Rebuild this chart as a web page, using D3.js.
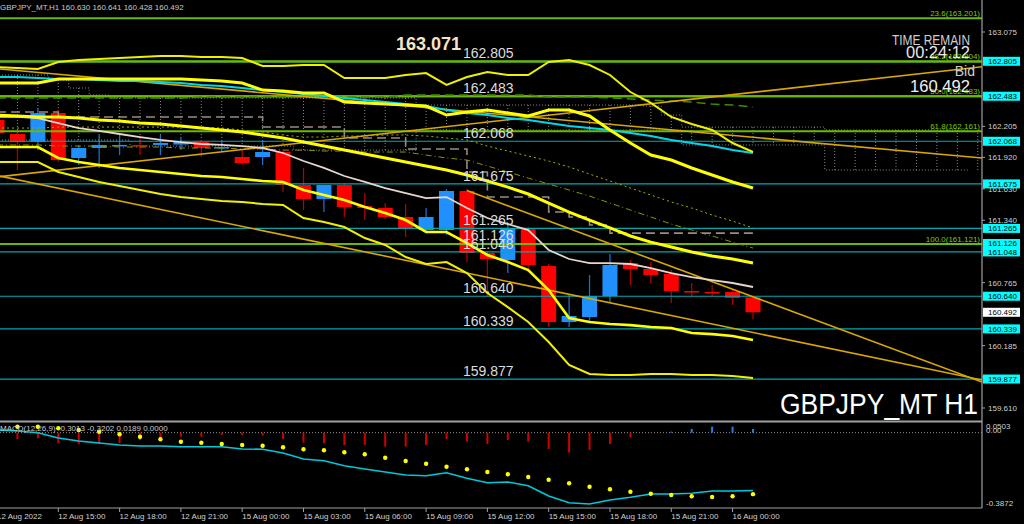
<!DOCTYPE html>
<html><head><meta charset="utf-8">
<script src="https://cdn.jsdelivr.net/npm/d3@7"></script>
<style>html,body{margin:0;padding:0;background:#000;overflow:hidden}svg{display:block}</style>
</head><body><svg id="c" width="1024" height="524"></svg>
<script>
// ---------- DATA ----------
const symbol = "GBPJPY_MT,H1";
const header = "160.630 160.641 160.428 160.492";
const open  = [162.264,162.135,162.061,162.328,161.914,162.006,162.024,162.034,162.034,162.038,162.061,162.006,161.923,161.923,161.969,161.665,161.536,161.665,161.471,161.453,161.370,161.250,161.250,161.610,161.038,160.974,161.259,160.918,160.402,160.448,160.642,160.946,160.891,160.845,160.688,160.679,160.679,160.630];
const high  = [162.310,162.154,162.375,162.356,162.034,162.126,162.126,162.098,162.126,162.098,162.080,162.080,161.987,162.080,161.987,161.822,161.665,161.683,161.591,161.499,161.490,161.453,161.628,161.628,161.057,161.296,161.278,160.937,160.651,160.835,161.029,160.974,160.955,160.881,160.762,160.743,160.697,160.641];
const low   = [162.080,161.803,161.987,161.877,161.849,161.822,161.941,161.941,161.941,161.987,161.923,161.969,161.849,161.849,161.600,161.434,161.416,161.370,161.342,161.351,161.186,161.232,161.204,160.955,160.633,160.854,160.863,160.356,160.356,160.411,160.587,160.743,160.762,160.578,160.633,160.633,160.559,160.428];
const close = [162.144,162.061,162.328,161.895,162.006,162.034,162.034,162.024,162.052,162.061,162.006,162.015,161.867,161.969,161.665,161.536,161.665,161.462,161.453,161.370,161.259,161.370,161.610,161.038,160.983,161.269,160.928,160.402,160.458,160.642,160.928,160.891,160.835,160.688,160.679,160.670,160.624,160.492];

const bandOuterUp = [162.752,162.743,162.734,162.799,162.817,162.826,162.835,162.845,162.854,162.854,162.845,162.845,162.835,162.762,162.762,162.771,162.771,162.651,162.651,162.651,162.679,162.697,162.587,162.660,162.706,162.679,162.679,162.799,162.817,162.771,162.679,162.522,162.421,162.292,162.227,162.172,162.052,161.969];
const bandUp = [162.605,162.605,162.605,162.642,162.642,162.642,162.642,162.642,162.642,162.642,162.633,162.623,162.605,162.540,162.531,162.513,162.513,162.430,162.421,162.411,162.402,162.393,162.310,162.338,162.356,162.328,162.301,162.356,162.356,162.301,162.172,162.052,161.941,161.895,161.822,161.757,161.693,161.637];
const bandMid = [162.310,162.301,162.292,162.292,162.282,162.264,162.255,162.236,162.227,162.209,162.190,162.172,162.153,162.126,162.098,162.061,162.024,161.987,161.951,161.914,161.877,161.840,161.803,161.757,161.702,161.646,161.582,161.499,161.416,161.342,161.269,161.195,161.139,161.093,161.047,161.010,160.983,160.946];
const bandLow = [162.015,162.015,162.015,161.914,161.877,161.849,161.822,161.803,161.785,161.766,161.748,161.739,161.720,161.702,161.693,161.619,161.573,161.527,161.462,161.407,161.342,161.232,161.232,161.130,161.020,160.955,160.881,160.697,160.439,160.402,160.384,160.374,160.356,160.347,160.301,160.291,160.273,160.236];
const bandOuterLow = [161.877,161.877,161.877,161.785,161.739,161.693,161.656,161.619,161.582,161.554,161.536,161.517,161.508,161.490,161.481,161.361,161.324,161.278,161.176,161.112,161.001,160.937,160.955,160.854,160.669,160.540,160.402,160.218,160.006,159.923,159.914,159.914,159.923,159.923,159.914,159.914,159.904,159.886];
const cyanMA = [162.660,162.660,162.651,162.642,162.642,162.633,162.623,162.623,162.614,162.605,162.587,162.577,162.559,162.540,162.522,162.504,162.485,162.467,162.448,162.430,162.411,162.393,162.356,162.328,162.310,162.282,162.264,162.236,162.209,162.190,162.172,162.144,162.116,162.080,162.052,162.024,161.987,161.960];
const whiteMA = [162.292,162.292,162.282,162.236,162.190,162.163,162.135,162.107,162.080,162.061,162.043,162.034,162.024,162.006,161.960,161.886,161.822,161.748,161.693,161.637,161.591,161.545,161.554,161.453,161.361,161.305,161.250,161.066,160.983,160.946,160.946,160.937,160.900,160.854,160.817,160.789,160.762,160.725];
const kijun = [162.338,162.338,162.338,162.292,162.292,162.292,162.292,162.292,162.292,162.292,162.292,162.292,162.292,162.199,162.199,162.199,162.199,162.098,162.098,162.098,161.997,161.997,161.997,161.785,161.554,161.554,161.554,161.416,161.370,161.296,161.222,161.222,161.222,161.222,161.222,161.222,161.222,161.222];
const greenDash = [162.467,162.467,162.467,162.467,162.467,162.467,162.467,162.467,162.467,162.467,162.476,162.476,162.476,162.476,162.476,162.476,162.476,162.476,162.476,162.476,162.494,162.494,162.494,162.494,162.494,162.494,162.494,162.476,162.476,162.476,162.467,162.458,162.448,162.439,162.430,162.411,162.402,162.384];
const oliveDot1 = [162.190,162.190,162.190,162.199,162.199,162.199,162.199,162.199,162.199,162.199,162.199,162.190,162.172,162.153,162.126,162.107,162.107,162.116,162.116,162.126,162.126,162.116,162.098,162.080,162.024,161.978,161.932,161.886,161.831,161.766,161.702,161.637,161.573,161.508,161.453,161.388,161.333,161.269];
const oliveDot2 = [162.034,162.034,162.034,162.024,162.024,162.024,162.015,162.015,162.015,162.006,162.006,162.006,161.997,161.997,161.987,161.987,161.978,161.978,161.969,161.969,161.969,161.941,161.914,161.895,161.840,161.785,161.729,161.674,161.619,161.563,161.499,161.434,161.370,161.305,161.250,161.195,161.139,161.084];
const cloudTop = [162.679,162.679,162.679,162.633,162.559,162.494,162.467,162.467,162.467,162.467,162.467,162.467,162.467,162.467,162.467,162.467,162.467,162.467,162.467,162.467,162.467,162.402,162.402,162.402,162.402,162.402,162.402,162.402,162.402,162.402,162.402,162.402,162.393,162.310,162.199,162.199,162.199,162.199,162.199,162.199,162.199,162.172,162.172,162.172,162.172,162.172,162.172,162.172,162.172];
const cloudBot = [162.080,162.080,162.080,162.080,162.080,162.080,162.080,162.024,162.024,162.024,162.024,162.024,162.024,162.024,162.024,161.987,161.987,161.987,161.987,161.987,161.987,162.172,162.172,162.172,162.172,162.172,162.172,162.172,162.172,162.172,162.172,162.172,162.172,162.172,162.034,162.034,162.034,162.034,162.034,162.034,162.034,161.803,161.803,161.803,161.803,161.803,161.803,161.803,161.803];
// trend lines: [bar, price] pairs (rays to the right)
const trendA = [[0,161.739],[37,162.519]];
const trendB = [[0,161.753],[37,160.306]];
const trendC = [[23,161.614],[37,160.634]];
const trendD = [[0,162.737],[37,162.105]];

const levels = [162.805,162.483,162.068,161.675,161.265,161.126,161.048,160.640,160.339,159.877];
const fiboLevels = [163.201,162.804,162.483,162.161,161.121];
const fiboNames = ["23.6","38.2","50.0","61.8","100.0"];
const priceTicks = [163.075,162.205,161.920,161.630,161.340,160.765,160.185,159.895,159.610];
const lastPrice = 160.492;
const highLabel = "163.071";

const macdMain = [0.0138,0.0086,-0.0002,-0.0278,-0.0435,-0.0539,-0.0643,-0.0695,-0.0695,-0.0731,-0.0731,-0.0731,-0.0851,-0.0867,-0.1060,-0.1372,-0.1461,-0.1721,-0.1893,-0.2049,-0.2205,-0.2242,-0.2086,-0.2377,-0.2606,-0.2570,-0.2763,-0.3299,-0.3648,-0.3716,-0.3507,-0.3367,-0.3195,-0.3195,-0.3158,-0.3039,-0.3039,-0.3013];
const macdSignal = [0.0347,0.0310,0.0310,0.0227,0.0138,0.0050,-0.0086,-0.0211,-0.0346,-0.0471,-0.0523,-0.0591,-0.0643,-0.0679,-0.0763,-0.0867,-0.0919,-0.1023,-0.1127,-0.1304,-0.1476,-0.1617,-0.1773,-0.1909,-0.2049,-0.2168,-0.2309,-0.2450,-0.2638,-0.2815,-0.2950,-0.3075,-0.3179,-0.3247,-0.3315,-0.3351,-0.3315,-0.3202];
const macdHist = [-0.0300,-0.0344,-0.0292,-0.0552,-0.0604,-0.0604,-0.0552,-0.0380,-0.0380,-0.0208,-0.0208,-0.0120,-0.0135,-0.0156,-0.0328,-0.0521,-0.0552,-0.0641,-0.0641,-0.0729,-0.0729,-0.0641,-0.0328,-0.0469,-0.0589,-0.0380,-0.0469,-0.0849,-0.1042,-0.0901,-0.0589,-0.0240,-0.0020,0.0052,0.0193,0.0313,0.0313,0.0189];
const macdLabel = "MACD(12,26,9) -0.3013 -0.3202 0.0189 0.0000";
const macdTicks = ["0.0503","0.00","-0.3872"];
const macdTickVals = [0.0503,0.0,-0.3872];

const timeTickBars = [0,3,6,9,12,15,18,21,24,27,30,33,36];
const timeTickLabels = ["12 Aug 2022","12 Aug 15:00","12 Aug 18:00","12 Aug 21:00","15 Aug 00:00","15 Aug 03:00","15 Aug 06:00","15 Aug 09:00","15 Aug 12:00","15 Aug 15:00","15 Aug 18:00","15 Aug 21:00","16 Aug 00:00"];

// ---------- SCALES ----------
const svg = d3.select("#c");
const W = 982;
const x = d3.scaleLinear().domain([0,37]).range([-3,753]);
const y = d3.scaleLinear().domain([159.610,163.075]).range([408,32]);
const ym = d3.scaleLinear().domain([-0.3872,0.0503]).range([507,423]);
const FONT = "Liberation Sans, Arial, sans-serif";

svg.append("rect").attr("width",1024).attr("height",524).attr("fill","#000");
const defs = svg.append("defs");
defs.append("clipPath").attr("id","cm").append("rect").attr("x",0).attr("y",0).attr("width",W).attr("height",421);
defs.append("clipPath").attr("id","cd").append("rect").attr("x",0).attr("y",423).attr("width",W).attr("height",85);

const main = svg.append("g").attr("clip-path","url(#cm)");
const line = d3.line().x((d,i)=>x(i)).y(d=>y(d));

// cloud (dotted)
const cl = main.append("g").attr("stroke","#8a8a8a").attr("stroke-width",1).attr("stroke-dasharray","1,2").attr("fill","none");
cl.append("path").attr("d",d3.line().curve(d3.curveStepAfter).x((d,i)=>x(i)-10).y(d=>y(d))(cloudTop));
cl.append("path").attr("d",d3.line().curve(d3.curveStepAfter).x((d,i)=>x(i)-10).y(d=>y(d))(cloudBot));
cloudTop.forEach((t,i)=>{ cl.append("line").attr("x1",x(i)).attr("x2",x(i)).attr("y1",y(t)).attr("y2",y(cloudBot[i])); });

// candles
const cg = main.append("g");
open.forEach((o,i)=>{
  const up = close[i] >= o;
  cg.append("line").attr("x1",x(i)).attr("x2",x(i)).attr("y1",y(high[i])).attr("y2",y(low[i]))
    .attr("stroke", up ? "#1a6fc0" : "#b00000").attr("stroke-width",1.3);
  const top = y(Math.max(o,close[i])), bot = y(Math.min(o,close[i]));
  cg.append("rect").attr("x",x(i)-7.5).attr("width",15).attr("y",top).attr("height",Math.max(1.5,bot-top))
    .attr("fill", up ? "#2090ff" : "#ff0000");
});

// fibo levels
fiboLevels.forEach((v,k)=>{
  main.append("line").attr("x1",0).attr("x2",W).attr("y1",y(v)).attr("y2",y(v)).attr("stroke","#6cb800").attr("stroke-width",2);
});
// horizontal levels
levels.forEach(v=>{
  main.append("line").attr("x1",0).attr("x2",W).attr("y1",y(v)).attr("y2",y(v)).attr("stroke","#00a8b0").attr("stroke-width",1.2);
});
// redraw fibo on top where they coincide
fiboLevels.forEach(v=>{
  if (levels.some(l=>Math.abs(l-v)<0.005))
    main.append("line").attr("x1",0).attr("x2",W).attr("y1",y(v)).attr("y2",y(v)).attr("stroke","#6cb800").attr("stroke-width",2);
});

// dotted / dashed indicators
main.append("path").attr("d",line(oliveDot1)).attr("fill","none").attr("stroke","#a8a800").attr("stroke-width",1).attr("stroke-dasharray","2,3");
main.append("path").attr("d",line(oliveDot2)).attr("fill","none").attr("stroke","#909000").attr("stroke-width",1).attr("stroke-dasharray","6,3,1,3");
main.append("path").attr("d",line(greenDash)).attr("fill","none").attr("stroke","#3e8a00").attr("stroke-width",1.5).attr("stroke-dasharray","9,5");
main.append("path").attr("d",d3.line().curve(d3.curveStepAfter).x((d,i)=>x(i)).y(d=>y(d))(kijun)).attr("fill","none").attr("stroke","#9a8a80").attr("stroke-width",1.6).attr("stroke-dasharray","9,5");

// trend lines (rays)
[trendA,trendB,trendC,trendD].forEach(t=>{
  const [p1,p2] = t;
  const x1 = x(p1[0]), y1 = y(p1[1]), x2 = x(p2[0]), y2 = y(p2[1]);
  const s = (y2-y1)/(x2-x1);
  main.append("line").attr("x1",x1).attr("y1",y1).attr("x2",W).attr("y2",y1+s*(W-x1))
    .attr("stroke","#d9a800").attr("stroke-width",1.6);
});

// moving averages / bands
main.append("path").attr("d",line(cyanMA)).attr("fill","none").attr("stroke","#00d8e8").attr("stroke-width",2);
main.append("path").attr("d",line(whiteMA)).attr("fill","none").attr("stroke","#e6d6ce").attr("stroke-width",1.8);
main.append("path").attr("d",line(bandOuterUp)).attr("fill","none").attr("stroke","#f0f000").attr("stroke-width",2);
main.append("path").attr("d",line(bandOuterLow)).attr("fill","none").attr("stroke","#f0f000").attr("stroke-width",2);
main.append("path").attr("d",line(bandUp)).attr("fill","none").attr("stroke","#ffff00").attr("stroke-width",3);
main.append("path").attr("d",line(bandMid)).attr("fill","none").attr("stroke","#ffff00").attr("stroke-width",3);
main.append("path").attr("d",line(bandLow)).attr("fill","none").attr("stroke","#ffff00").attr("stroke-width",2.6);

// level labels
levels.forEach(v=>{
  main.append("text").attr("x",463).attr("y",y(v)-3).text(v.toFixed(3))
    .attr("fill","#dcdcdc").attr("font-family",FONT).attr("font-size",14);
});
// fibo labels
fiboLevels.forEach((v,k)=>{
  main.append("text").attr("x",980).attr("y",y(v)-2).attr("text-anchor","end").text(fiboNames[k]+"("+v.toFixed(3)+")")
    .attr("fill","#7ccc00").attr("font-family",FONT).attr("font-size",8);
});
// high label
main.append("text").attr("x",396).attr("y",50).text(highLabel).attr("fill","#f6e4c4")
  .attr("font-family",FONT).attr("font-size",18).attr("font-weight","bold");
// info texts
const info = main.append("g").attr("fill","#cfcfcf").attr("font-family",FONT).attr("text-anchor","end");
info.append("text").attr("x",970).attr("y",45).text("TIME REMAIN").attr("font-size",15).attr("textLength",78).attr("lengthAdjust","spacingAndGlyphs");
info.append("text").attr("x",970).attr("y",58).text("00:24:12").attr("font-size",16).attr("fill","#e8e8e8").attr("textLength",64).attr("lengthAdjust","spacingAndGlyphs");
info.append("text").attr("x",975).attr("y",76).text("Bid").attr("font-size",14);
info.append("text").attr("x",970).attr("y",92).text(lastPrice.toFixed(3)).attr("font-size",17).attr("fill","#f0f0f0").attr("textLength",60).attr("lengthAdjust","spacingAndGlyphs");
main.append("text").attr("x",978).attr("y",414).attr("text-anchor","end").text("GBPJPY_MT H1").attr("fill","#ffffff")
  .attr("font-family",FONT).attr("font-size",29).attr("textLength",198).attr("lengthAdjust","spacingAndGlyphs");
// header
svg.append("text").attr("x",0).attr("y",10).text(symbol+"  "+header).attr("fill","#c8c8c8").attr("font-family",FONT).attr("font-size",8);

// ---------- MACD ----------
const md = svg.append("g").attr("clip-path","url(#cd)");
md.append("line").attr("x1",0).attr("x2",W).attr("y1",ym(0)).attr("y2",ym(0)).attr("stroke","#909090").attr("stroke-dasharray","1,2");
macdHist.forEach((v,i)=>{
  md.append("line").attr("x1",x(i)).attr("x2",x(i)).attr("y1",ym(0)).attr("y2",ym(v))
    .attr("stroke", v>=0 ? "#2a7de0" : "#d00000").attr("stroke-width",2);
});
md.append("path").attr("d",d3.line().x((d,i)=>x(i)).y(d=>ym(d))(macdMain)).attr("fill","none").attr("stroke","#00c8d8").attr("stroke-width",1.6);
macdSignal.forEach((v,i)=>{
  md.append("circle").attr("cx",x(i)).attr("cy",ym(v)).attr("r",2.2).attr("fill","#ffff00");
});
svg.append("text").attr("x",0).attr("y",431).text(macdLabel).attr("fill","#c8c8c8").attr("font-family",FONT).attr("font-size",8);

// ---------- FRAMES & AXES ----------
svg.append("line").attr("x1",0).attr("x2",W).attr("y1",421.5).attr("y2",421.5).attr("stroke","#a0a0a0").attr("stroke-width",2);
svg.append("line").attr("x1",0).attr("x2",W).attr("y1",508).attr("y2",508).attr("stroke","#a0a0a0").attr("stroke-width",1.2);
svg.append("line").attr("x1",W).attr("x2",W).attr("y1",0).attr("y2",508).attr("stroke","#a0a0a0").attr("stroke-width",1.2);

const ax = svg.append("g").attr("font-family",FONT).attr("font-size",8).attr("fill","#d0d0d0");
priceTicks.forEach(v=>{
  ax.append("line").attr("x1",W).attr("x2",W+3).attr("y1",y(v)).attr("y2",y(v)).attr("stroke","#a0a0a0");
  ax.append("text").attr("x",988).attr("y",y(v)+3).text(v.toFixed(3));
});
levels.forEach(v=>{
  ax.append("rect").attr("x",983).attr("y",y(v)-4.5).attr("width",37).attr("height",9).attr("fill","#00ffff");
  ax.append("text").attr("x",988).attr("y",y(v)+3).text(v.toFixed(3)).attr("fill","#000");
});
ax.append("rect").attr("x",983).attr("y",y(lastPrice)-4.5).attr("width",37).attr("height",9).attr("fill","#ffffff");
ax.append("text").attr("x",988).attr("y",y(lastPrice)+3).text(lastPrice.toFixed(3)).attr("fill","#000");

macdTicks.forEach((t,k)=>{
  const yy = k===0 ? 429 : (k===1 ? 433 : 506);
  ax.append("text").attr("x",986).attr("y",yy).text(t);
});

timeTickBars.forEach((b,k)=>{
  ax.append("line").attr("x1",x(b)).attr("x2",x(b)).attr("y1",508).attr("y2",512).attr("stroke","#a0a0a0");
  ax.append("text").attr("x",x(b)).attr("y",519).text(timeTickLabels[k]);
});
</script></body></html>
